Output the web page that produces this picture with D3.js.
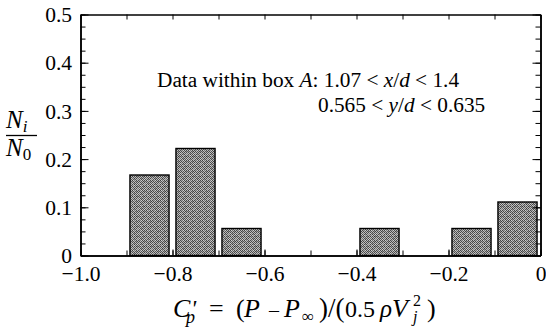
<!DOCTYPE html>
<html>
<head>
<meta charset="utf-8">
<script src="https://cdn.jsdelivr.net/npm/d3@7"></script>
<style>
  html, body { margin: 0; padding: 0; background: #fff; }
  svg { display: block; }
  text { font-family: "Liberation Serif", "Times New Roman", "DejaVu Serif", serif; fill: #000; }
</style>
</head>
<body>
<svg id="chart" width="546" height="331"></svg>
<script>
// Histogram of fluctuating pressure coefficient (bin centres and fractions N_i / N_0)
const binCenters = [-0.85, -0.75, -0.65, -0.35, -0.15, -0.05];
const fractions  = [0.167, 0.222, 0.056, 0.056, 0.056, 0.111];
const binWidth = 0.085;

const xMajorTicks = [-1.0, -0.8, -0.6, -0.4, -0.2, 0];
const xTickLabels = ["\u22121.0", "\u22120.8", "\u22120.6", "\u22120.4", "\u22120.2", "0"];
const yMajorTicks = [0, 0.1, 0.2, 0.3, 0.4, 0.5];
const yTickLabels = ["0", "0.1", "0.2", "0.3", "0.4", "0.5"];

const serif = "'Liberation Serif', 'Times New Roman', 'DejaVu Serif', serif";
const svg = d3.select("#chart");
const plotL = 80.5, plotR = 540.5, plotT = 14.5, plotB = 255.5;

const x = d3.scaleLinear().domain([-1, 0]).range([plotL, plotR]);
const y = d3.scaleLinear().domain([0, 0.5]).range([plotB, plotT]);

// Stippled grey fill for the bars: a fine checker plus a coarser mottle on top
const defs = svg.append("defs");
const pat = defs.append("pattern")
  .attr("id", "stipple").attr("patternUnits", "userSpaceOnUse")
  .attr("width", 2).attr("height", 2);
pat.append("rect").attr("width", 2).attr("height", 2).attr("fill", "#bdbdbd");
pat.append("rect").attr("x", 0).attr("y", 0).attr("width", 1).attr("height", 1).attr("fill", "#474747");
pat.append("rect").attr("x", 1).attr("y", 1).attr("width", 1).attr("height", 1).attr("fill", "#545454");

const mottle = defs.append("pattern")
  .attr("id", "mottle").attr("patternUnits", "userSpaceOnUse")
  .attr("width", 7).attr("height", 5);
[[0,0,2,1,"#fff",0.25],[3,1,2,1,"#000",0.25],[5,3,2,1,"#fff",0.2],
 [1,3,1,2,"#000",0.2],[4,4,1,1,"#fff",0.3],[6,0,1,2,"#000",0.15]]
  .forEach(([px, py, w, h, c, o]) => mottle.append("rect")
    .attr("x", px).attr("y", py).attr("width", w).attr("height", h)
    .attr("fill", c).attr("fill-opacity", o));

const barData = binCenters.map((c, i) => ({ c, v: fractions[i] }));
const barG = svg.append("g");
function drawBars(fill, stroke) {
  barG.append("g").selectAll("rect")
    .data(barData)
    .join("rect")
    .attr("x", d => x(d.c - binWidth / 2))
    .attr("width", d => x(d.c + binWidth / 2) - x(d.c - binWidth / 2))
    .attr("y", d => y(d.v))
    .attr("height", d => y(0) - y(d.v))
    .attr("fill", fill)
    .attr("stroke", stroke).attr("stroke-width", 1.4);
}
drawBars("url(#stipple)", "none");
drawBars("url(#mottle)", "#000");

// Axes with inward ticks
const xMinor = d3.range(-1, 0.0001, 0.1);
const yMinor = d3.range(0, 0.5001, 0.025);

function styleAxis(g) {
  g.attr("font-family", serif);
  g.select(".domain").attr("stroke", "#000").attr("stroke-width", 1.5);
  g.selectAll(".tick line").attr("stroke", "#000").attr("stroke-width", 1);
}

svg.append("g").attr("transform", `translate(0,${plotB})`)
  .call(d3.axisBottom(x).tickValues(xMinor).tickSizeInner(-5).tickSizeOuter(0).tickFormat(""))
  .call(styleAxis);
const xAxisG = svg.append("g").attr("transform", `translate(0,${plotB})`)
  .call(d3.axisBottom(x).tickValues(xMajorTicks).tickSizeInner(-6).tickSizeOuter(0)
    .tickFormat((d, i) => xTickLabels[i]))
  .call(styleAxis);
xAxisG.selectAll(".tick text")
  .attr("y", 25.5).attr("dy", 0)
  .attr("font-size", 21.5);

svg.append("g").attr("transform", `translate(0,${plotT})`)
  .call(d3.axisTop(x).tickValues(xMinor).tickSizeInner(-5).tickSizeOuter(0).tickFormat(""))
  .call(styleAxis);

svg.append("g").attr("transform", `translate(${plotL},0)`)
  .call(d3.axisLeft(y).tickValues(yMinor).tickSizeInner(-5).tickSizeOuter(0).tickFormat(""))
  .call(styleAxis);
const yAxisG = svg.append("g").attr("transform", `translate(${plotL},0)`)
  .call(d3.axisLeft(y).tickValues(yMajorTicks).tickSizeInner(-8).tickSizeOuter(0)
    .tickFormat((d, i) => yTickLabels[i]))
  .call(styleAxis);
yAxisG.selectAll(".tick text")
  .attr("x", -8.5).attr("dy", "0.33em")
  .attr("font-size", 21.5);

svg.append("g").attr("transform", `translate(${plotR},0)`)
  .call(d3.axisRight(y).tickValues(yMinor).tickSizeInner(-5).tickSizeOuter(0).tickFormat(""))
  .call(styleAxis);
svg.append("g").attr("transform", `translate(${plotR},0)`)
  .call(d3.axisRight(y).tickValues(yMajorTicks).tickSizeInner(-8).tickSizeOuter(0).tickFormat(""))
  .call(styleAxis);

// Annotation
const note = svg.append("g").attr("font-size", 21.3).attr("font-family", serif);
const l1 = note.append("text").attr("x", 157).attr("y", 87);
l1.append("tspan").text("Data within box ");
l1.append("tspan").attr("font-style", "italic").text("A");
l1.append("tspan").text(": 1.07 < ");
l1.append("tspan").attr("font-style", "italic").text("x");
l1.append("tspan").text("/");
l1.append("tspan").attr("font-style", "italic").text("d");
l1.append("tspan").text(" < 1.4");
const l2 = note.append("text").attr("x", 318).attr("y", 112);
l2.append("tspan").text("0.565 < ");
l2.append("tspan").attr("font-style", "italic").text("y");
l2.append("tspan").text("/");
l2.append("tspan").attr("font-style", "italic").text("d");
l2.append("tspan").text(" < 0.635");

// Y-axis title: N_i / N_0
const yt = svg.append("g").attr("font-size", 25).attr("font-family", serif);
const num = yt.append("text").attr("x", 6).attr("y", 128);
num.append("tspan").attr("font-style", "italic").text("N");
num.append("tspan").attr("font-style", "italic").attr("font-size", 17).attr("dy", 4).text("i");
yt.append("line").attr("x1", 6).attr("x2", 37).attr("y1", 135.5).attr("y2", 135.5)
  .attr("stroke", "#000").attr("stroke-width", 1.3);
const den = yt.append("text").attr("x", 6).attr("y", 156);
den.append("tspan").attr("font-style", "italic").text("N");
den.append("tspan").attr("font-size", 17).attr("dy", 4).text("0");

// X-axis title: C'_p = (P - P_inf)/(0.5 rho V_j^2), laid out piece by piece
const titleBase = 317;
const titlePieces = [
  { t: "C",        x: 173, dy: 0,  size: 26, it: true },
  { t: "'",        x: 191, dy: -1, size: 24, it: true },
  { t: "p",        x: 186, dy: 6,  size: 18, it: true },
  { t: "=",        x: 209, dy: 0,  size: 26, it: false },
  { t: "(",        x: 236, dy: 0,  size: 26, it: false },
  { t: "P",        x: 244, dy: 0,  size: 26, it: true },
  { t: "\u2013",   x: 269, dy: 0,  size: 20, it: false },
  { t: "P",        x: 284, dy: 0,  size: 26, it: true },
  { t: "\u221E",   x: 302, dy: 5,  size: 17, it: false },
  { t: ")/(",      x: 319, dy: 0,  size: 27, it: false },
  { t: "0.5",      x: 345, dy: 0,  size: 24, it: false },
  { t: "\u03C1",   x: 380, dy: 0,  size: 25, it: true },
  { t: "V",        x: 392, dy: 0,  size: 26, it: true },
  { t: "2",        x: 413, dy: -11, size: 16, it: false },
  { t: "j",        x: 413, dy: 5,  size: 16, it: true },
  { t: ")",        x: 427, dy: 0,  size: 26, it: false }
];
svg.append("g").attr("font-family", serif).selectAll("text")
  .data(titlePieces).join("text")
  .attr("x", d => d.x).attr("y", d => titleBase + d.dy)
  .attr("font-size", d => d.size)
  .attr("font-style", d => d.it ? "italic" : "normal")
  .text(d => d.t);
</script>
</body>
</html>
